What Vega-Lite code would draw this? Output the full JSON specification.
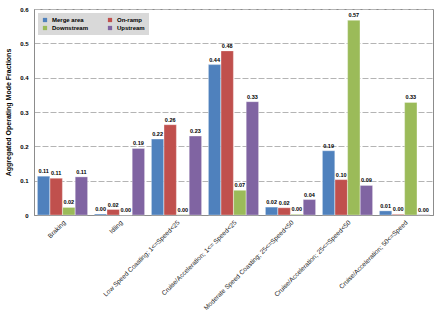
{
  "$schema": "https://vega.github.io/schema/vega-lite/v6.json",
  "width": 399,
  "height": 206,
  "autosize": "none",
  "padding": {"left": 34, "top": 9, "right": 13, "bottom": 109},
  "background": "white",
  "config": {
    "font": "Liberation Sans",
    "view": {"stroke": "#8c8c8c", "strokeWidth": 1},
    "axis": {"labelFont": "Liberation Sans", "titleFont": "Liberation Sans"},
    "legend": {"symbolType": "square"}
  },
  "data": {
    "values": [
      {"mode": "Braking", "loc": "Merge area", "v": 0.113},
      {"mode": "Braking", "loc": "On-ramp", "v": 0.107},
      {"mode": "Braking", "loc": "Downstream", "v": 0.022},
      {"mode": "Braking", "loc": "Upstream", "v": 0.111},
      {"mode": "Idling", "loc": "Merge area", "v": 0.003},
      {"mode": "Idling", "loc": "On-ramp", "v": 0.016},
      {"mode": "Idling", "loc": "Downstream", "v": 0.0},
      {"mode": "Idling", "loc": "Upstream", "v": 0.194},
      {"mode": "Low Speed Coasting; 1<=Speed<25", "loc": "Merge area", "v": 0.221},
      {"mode": "Low Speed Coasting; 1<=Speed<25", "loc": "On-ramp", "v": 0.263},
      {"mode": "Low Speed Coasting; 1<=Speed<25", "loc": "Downstream", "v": 0.001},
      {"mode": "Low Speed Coasting; 1<=Speed<25", "loc": "Upstream", "v": 0.23},
      {"mode": "Cruise/Acceleration; 1<= Speed<25", "loc": "Merge area", "v": 0.438},
      {"mode": "Cruise/Acceleration; 1<= Speed<25", "loc": "On-ramp", "v": 0.478},
      {"mode": "Cruise/Acceleration; 1<= Speed<25", "loc": "Downstream", "v": 0.072},
      {"mode": "Cruise/Acceleration; 1<= Speed<25", "loc": "Upstream", "v": 0.33},
      {"mode": "Moderate Speed Coasting; 25<=Speed<50", "loc": "Merge area", "v": 0.023},
      {"mode": "Moderate Speed Coasting; 25<=Speed<50", "loc": "On-ramp", "v": 0.021},
      {"mode": "Moderate Speed Coasting; 25<=Speed<50", "loc": "Downstream", "v": 0.002},
      {"mode": "Moderate Speed Coasting; 25<=Speed<50", "loc": "Upstream", "v": 0.045},
      {"mode": "Cruise/Acceleration; 25<=Speed<50", "loc": "Merge area", "v": 0.187},
      {"mode": "Cruise/Acceleration; 25<=Speed<50", "loc": "On-ramp", "v": 0.103},
      {"mode": "Cruise/Acceleration; 25<=Speed<50", "loc": "Downstream", "v": 0.567},
      {"mode": "Cruise/Acceleration; 25<=Speed<50", "loc": "Upstream", "v": 0.086},
      {"mode": "Cruise/Acceleration; 50<=Speed", "loc": "Merge area", "v": 0.012},
      {"mode": "Cruise/Acceleration; 50<=Speed", "loc": "On-ramp", "v": 0.002},
      {"mode": "Cruise/Acceleration; 50<=Speed", "loc": "Downstream", "v": 0.328},
      {"mode": "Cruise/Acceleration; 50<=Speed", "loc": "Upstream", "v": 0.001}
    ]
  },
  "encoding": {
    "x": {
      "field": "mode",
      "type": "nominal",
      "sort": null,
      "scale": {"paddingInner": 0.12, "paddingOuter": 0.06},
      "axis": {
        "title": null,
        "labelAngle": -45,
        "labelFontSize": 6.5,
        "labelColor": "#222",
        "labelLimit": 200,
        "ticks": false,
        "domainColor": "#8c8c8c",
        "labelPadding": 4
      }
    },
    "xOffset": {
      "field": "loc",
      "type": "nominal",
      "sort": ["Merge area", "On-ramp", "Downstream", "Upstream"],
      "scale": {"paddingInner": 0.02}
    },
    "y": {
      "field": "v",
      "type": "quantitative",
      "scale": {"domain": [0, 0.6], "nice": false},
      "axis": {
        "title": "Aggregated Operating Mode Fractions",
        "titleFontSize": 7,
        "titleFontWeight": "bold",
        "titlePadding": 8,
        "format": ".1~f",
        "values": [0, 0.1, 0.2, 0.3, 0.4, 0.5, 0.6],
        "labelOverlap": false,
        "labelFontSize": 6,
        "labelFontWeight": "bold",
        "labelColor": "#000",
        "ticks": false,
        "labelPadding": 6,
        "domainColor": "#8c8c8c",
        "gridColor": "#b4b4b4",
        "gridDash": [6, 2]
      }
    }
  },
  "layer": [
    {
      "mark": {"type": "bar", "stroke": "white", "strokeOpacity": 0.4, "strokeWidth": 0.8},
      "encoding": {
        "color": {
          "field": "loc",
          "type": "nominal",
          "sort": ["Merge area", "On-ramp", "Downstream", "Upstream"],
          "scale": {
            "domain": ["Merge area", "On-ramp", "Downstream", "Upstream"],
            "range": ["#4F81BD", "#C0504D", "#9BBB59", "#8064A2"]
          },
          "legend": {
            "title": null,
            "orient": "none",
            "legendX": 4,
            "legendY": 4,
            "columns": 2,
            "direction": "horizontal",
            "fillColor": "#d9d9d9",
            "padding": 4,
            "symbolType": "square",
            "symbolSize": 18,
            "symbolStrokeWidth": 0,
            "labelFontSize": 6,
            "labelFontWeight": "bold",
            "columnPadding": 18,
            "rowPadding": 2,
            "labelLimit": 60
          }
        }
      }
    },
    {
      "mark": {"type": "text", "dy": -5, "fontSize": 5.5, "fontWeight": "bold", "color": "#000"},
      "encoding": {
        "text": {"field": "v", "type": "quantitative", "format": ".2f"}
      }
    }
  ]
}
